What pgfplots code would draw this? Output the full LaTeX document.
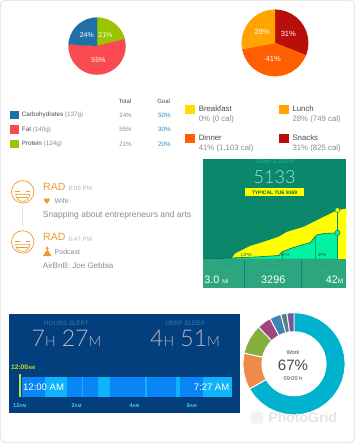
\documentclass[border=0pt]{standalone}
\usepackage{pgfplots}
\pgfplotsset{compat=1.18}
\usepgfplotslibrary{polar}
\usepackage{fontspec}
\setmainfont{Liberation Sans}
\newfontfamily\thinf{Lato Light}
\newfontfamily\dejavu{DejaVu Sans}
\definecolor{gtx}{HTML}{8C8C8C}
\definecolor{dtx}{HTML}{4A4A4A}
\definecolor{ora}{HTML}{EF9A2E}
\definecolor{lnk}{HTML}{2A8CC4}
\definecolor{pb}{HTML}{1F6FA8}
\definecolor{pg}{HTML}{9BC400}
\definecolor{pr}{HTML}{F94B4F}
\definecolor{bf}{HTML}{FFDD00}
\definecolor{lu}{HTML}{FFA400}
\definecolor{di}{HTML}{FF5F00}
\definecolor{sn}{HTML}{B80F0A}
\definecolor{teal}{HTML}{0B876C}
\definecolor{foot}{HTML}{2DA67F}
\definecolor{mint}{HTML}{00F2A2}
\definecolor{ygreen}{HTML}{FFFF00}
\definecolor{navy}{HTML}{033F7C}
\definecolor{bar1}{HTML}{0A85F5}
\definecolor{bar2}{HTML}{0DB4FB}
\definecolor{d1}{HTML}{00B2CE}
\definecolor{d2}{HTML}{EE8A4A}
\definecolor{d3}{HTML}{86B03C}
\definecolor{d4}{HTML}{A0457F}
\definecolor{d5}{HTML}{3F83B8}
\definecolor{d6}{HTML}{5B7D8A}
\definecolor{d7}{HTML}{6F5A9A}
\newcommand\rect[5]{\addplot[fill=#1,draw=none,forget plot] coordinates {(#2,#3)(#4,#3)(#4,#5)(#2,#5)} --cycle;}
\newcommand\T[6]{\node[text=#1,anchor=#3,inner sep=0pt,font=\fontsize{#2}{#2}\selectfont] at (axis cs:#4,#5) {#6};}
\newcommand\Sq[4]{\addplot[only marks,mark=square*,mark size=#4pt,color=#1,forget plot] coordinates {(#2,#3)};}
\newcommand\Face[4]{%
  \draw[ora,line width=0.7pt] (axis cs:23,#1) circle [radius=11.2pt];
  \draw[ora,line width=0.6pt] (axis cs:15.5,#2) -- (axis cs:20,#2);
  \draw[ora,line width=0.6pt] (axis cs:26,#2) -- (axis cs:30.5,#2);
  \draw[ora,line width=0.6pt] (axis cs:30,#3) arc (0:-180:7pt) -- cycle;
  \draw[ora,line width=0.4pt] (axis cs:17.5,#4) -- (axis cs:28.5,#4);}
\pgfplotsset{pix/.style={at={(0pt,0pt)},anchor=south west,width=355pt,height=443pt,scale only axis,
  xmin=0,xmax=355,ymin=0,ymax=443,y dir=reverse,hide axis,clip=false},
  wedge/.style={fill=#1,draw=#1,line width=0.2pt,mark=none,forget plot},
  gapw/.style={fill=#1,draw=white,line width=0.9pt,mark=none,forget plot},
  pol/.style={anchor=center,scale only axis,xmin=0,xmax=360,ymin=0,ymax=1,hide axis,clip=false}}
\begin{document}
\begin{tikzpicture}
\begin{axis}[pix]
% card
\draw[draw=gray!25,fill=white,line width=0.7pt,rounded corners=6pt] (axis cs:0.7,0.7) rectangle (axis cs:354.3,442);
% nutrition table
\T{dtx}{6}{center}{125}{101}{Total}
\T{dtx}{6}{center}{163.7}{101}{Goal}
\Sq{pb}{14.7}{115}{3.7}
\Sq{pr}{14.7}{129.3}{3.7}
\Sq{pg}{14.7}{144}{3.7}
\T{dtx}{6.3}{west}{22}{115.3}{Carbohydrates \textcolor{gtx}{(137g)}}
\T{dtx}{6.3}{west}{22}{129.6}{Fat \textcolor{gtx}{(140g)}}
\T{dtx}{6.3}{west}{22}{144.3}{Protein \textcolor{gtx}{(124g)}}
\T{gtx}{6.2}{east}{132}{115.3}{24\%}
\T{gtx}{6.2}{east}{132}{129.6}{55\%}
\T{gtx}{6.2}{east}{132}{144.3}{21\%}
\T{lnk}{6.2}{east}{170.7}{115.3}{50\%}
\T{lnk}{6.2}{east}{170.7}{129.6}{30\%}
\T{lnk}{6.2}{east}{170.7}{144.3}{20\%}
% meals legend
\Sq{bf}{189.7}{109.3}{4.4}
\Sq{lu}{283}{109.3}{4.4}
\Sq{di}{189.7}{138.3}{4.4}
\Sq{sn}{283}{138.3}{4.4}
\T{dtx}{7.8}{west}{198.5}{109}{Breakfast}
\T{gtx}{7.8}{west}{198.5}{119.3}{0\% (0 cal)}
\T{dtx}{7.8}{west}{292}{109}{Lunch}
\T{gtx}{7.8}{west}{292}{119.3}{28\% (749 cal)}
\T{dtx}{7.8}{west}{198.5}{138}{Dinner}
\T{gtx}{7.8}{west}{198.5}{148.3}{41\% (1,103 cal)}
\T{dtx}{7.8}{west}{292}{138}{Snacks}
\T{gtx}{7.8}{west}{292}{148.3}{31\% (825 cal)}
% mood entries
\draw[gray!25,line width=1.1pt] (axis cs:23,207) -- (axis cs:23,226);
\Face{191.7}{191}{194.2}{197}
\Face{241.7}{241}{244.2}{247}
\T{ora}{10.5}{west}{43.3}{187}{RAD}
\T{gray!55}{6.3}{west}{68.5}{188.7}{8:09 PM}
\node[text=ora,anchor=center,inner sep=0pt,font=\dejavu\fontsize{8}{8}\selectfont] at (axis cs:47.3,201) {♥};
\T{gtx}{7}{west}{54.7}{201.3}{Wife}
\T{gtx}{8.5}{west}{43}{215}{Snapping about entrepreneurs and arts}
\T{ora}{10.5}{west}{43.3}{237}{RAD}
\T{gray!55}{6.3}{west}{68.5}{238.7}{6:47 PM}
\fill[ora] (axis cs:43,256) -- (axis cs:47.5,249) -- (axis cs:52,256) -- cycle;
\fill[ora] (axis cs:47.5,248) circle [radius=1.6pt];
\T{gtx}{7}{west}{54.7}{251.3}{Podcast}
\T{gtx}{8}{west}{43}{265}{AirBnB: Joe Gebbia}
% steps panel
\rect{teal}{203}{159}{346}{288}
\T{foot!75!mint}{5}{center}{274.3}{162}{TODAY'S STEPS}
\node[text=mint!30!white!85!teal,anchor=center,inner sep=0pt,font=\thinf\fontsize{18}{18}\selectfont] at (axis cs:274.3,176.7) {5133};
\rect{ygreen}{244.3}{188.3}{304}{196}
\T{teal!70!black}{5}{center}{274.2}{192.2}{\textbf{TYPICAL TUE 9169}}
\addplot[fill=ygreen,draw=none,forget plot] coordinates {(231,258.7)(235,253.3)(250,245.7)(263.3,241.7)(278.3,236.7)(286.7,231.7)(303.3,226.7)(316.7,220)(337,210)(346,208.5)(346,259)(231,259)} --cycle;
\addplot[fill=mint,draw=teal!80!black,line width=0.6pt,forget plot] coordinates {(203.3,258.7)(231,257.7)(256.7,256.7)(278.3,255.3)(281.7,251.7)(290,248.3)(310,242.3)(316,235)(323.3,233.3)(337,232.7)(337,259)(203.3,259)} --cycle;
\addplot[teal!70!mint,line width=0.5pt,forget plot] coordinates {(281.7,251.7)(281.7,259)};
\addplot[teal!70!mint,line width=0.5pt,forget plot] coordinates {(315,236)(315,259)};
\addplot[teal,line width=0.8pt,forget plot] coordinates {(337,210)(337,259)};
\addplot[only marks,mark=*,mark size=2.4pt,mark options={fill=ygreen,draw=teal,line width=0.5pt},forget plot] coordinates {(337,210)};
\addplot[only marks,mark=*,mark size=2.6pt,mark options={fill=mint,draw=teal,line width=0.6pt},forget plot] coordinates {(337,232.7)};
\T{teal!80!black}{4.2}{center}{246}{255}{12PM}
\T{teal!80!black}{4.2}{center}{285}{255}{6PM}
\T{teal!80!black}{4.2}{center}{321.7}{255}{8PM}
\rect{foot}{203}{259}{346}{288}
\addplot[teal,line width=0.5pt,forget plot] coordinates {(244.3,259)(244.3,288)};
\addplot[teal,line width=0.5pt,forget plot] coordinates {(301,259)(301,288)};
\T{foot!70!mint}{5}{center}{226}{269}{Distance}
\T{foot!70!mint}{5}{center}{273}{269}{Calories}
\T{foot!70!mint}{5}{east}{343}{269}{Active Time}
\T{white}{10.8}{west}{204}{279.5}{3.0 {\fontsize{5.5}{5.5}\selectfont MI}}
\T{white}{10.8}{center}{273}{279.5}{3296}
\T{white}{10.8}{east}{343}{279.5}{42{\fontsize{6.5}{6.5}\selectfont M}}
% sleep panel
\rect{navy}{9}{314}{240}{412.5}
\T{pb!90!white}{6.3}{center}{66.7}{323}{HOURS SLEPT}
\T{pb!90!white}{6.3}{center}{185}{323}{DEEP SLEEP}
\node[text=blue!15!gray!50!white,anchor=center,inner sep=0pt,font=\thinf\fontsize{23}{23}\selectfont] at (axis cs:66.7,338.3) {7{\fontsize{14}{14}\selectfont H} 27{\fontsize{14}{14}\selectfont M}};
\node[text=blue!15!gray!50!white,anchor=center,inner sep=0pt,font=\thinf\fontsize{23}{23}\selectfont] at (axis cs:185,338.3) {4{\fontsize{14}{14}\selectfont H} 51{\fontsize{14}{14}\selectfont M}};
\rect{bar1}{22}{376.5}{232}{396.5}
\rect{bar2}{45.7}{376.5}{67}{396.5}
\rect{bar2}{81.7}{376.5}{83}{396.5}
\rect{bar2}{97.7}{376.5}{110}{396.5}
\rect{bar2}{145}{376.5}{146.7}{396.5}
\rect{bar2}{175.7}{376.5}{180}{396.5}
\rect{bar2}{203.3}{376.5}{232}{396.5}
\rect{yellow!60!green!70!white}{19.5}{374}{21.3}{396.5}
\T{yellow!80!green}{6.6}{center}{23.5}{367}{\textbf{12:00{\fontsize{4.6}{4.6}\selectfont AM}}}
\T{white}{9.5}{west}{23.3}{386.7}{12:00 AM}
\T{white}{9.5}{east}{229.3}{386.7}{7:27 AM}
\T{bar2!75!white}{5.6}{center}{20}{405.3}{\textbf{12{\fontsize{4.4}{4.4}\selectfont AM}}}
\T{bar2!75!white}{5.6}{center}{76.7}{405.3}{\textbf{2{\fontsize{4.4}{4.4}\selectfont AM}}}
\T{bar2!75!white}{5.6}{center}{134.3}{405.3}{\textbf{4{\fontsize{4.4}{4.4}\selectfont AM}}}
\T{bar2!75!white}{5.6}{center}{191.7}{405.3}{\textbf{6{\fontsize{4.4}{4.4}\selectfont AM}}}
\end{axis}
% macro pie
\begin{polaraxis}[pol,at={(97.2pt,396.7pt)},width=57pt,height=57pt]
\addplot[wedge=pg] coordinates {(0,0)(90,1)(80,1)(70,1)(60,1)(50,1)(40,1)(30,1)(20,1)(14.4,1)} --cycle;
\addplot[wedge=pr] coordinates {(0,0)(14.4,1)(0,1)(-10,1)(-20,1)(-30,1)(-40,1)(-50,1)(-60,1)(-70,1)(-80,1)(-90,1)(-100,1)(-110,1)(-120,1)(-130,1)(-140,1)(-150,1)(-160,1)(-170,1)(-180,1)(-183.6,1)} --cycle;
\addplot[wedge=pb] coordinates {(0,0)(176.4,1)(170,1)(160,1)(150,1)(140,1)(130,1)(120,1)(110,1)(100,1)(90,1)} --cycle;
\end{polaraxis}
% meals pie
\begin{polaraxis}[pol,at={(274.7pt,399.8pt)},width=66.4pt,height=66.4pt]
\addplot[wedge=sn] coordinates {(0,0)(90,1)(80,1)(70,1)(60,1)(50,1)(40,1)(30,1)(20,1)(10,1)(0,1)(-10,1)(-20,1)(-21.6,1)} --cycle;
\addplot[wedge=di] coordinates {(0,0)(-21.6,1)(-30,1)(-40,1)(-50,1)(-60,1)(-70,1)(-80,1)(-90,1)(-100,1)(-110,1)(-120,1)(-130,1)(-140,1)(-150,1)(-160,1)(-169.2,1)} --cycle;
\addplot[wedge=lu] coordinates {(0,0)(190.8,1)(180,1)(170,1)(160,1)(150,1)(140,1)(130,1)(120,1)(110,1)(100,1)(90,1)} --cycle;
\end{polaraxis}
% donut
\begin{polaraxis}[pol,at={(293.7pt,79.7pt)},width=102pt,height=102pt]
\addplot[gapw=d1] coordinates {(0,0)(90,1)(80,1)(70,1)(60,1)(50,1)(40,1)(30,1)(20,1)(10,1)(0,1)(-10,1)(-20,1)(-30,1)(-40,1)(-50,1)(-60,1)(-70,1)(-80,1)(-90,1)(-100,1)(-110,1)(-120,1)(-130,1)(-140,1)(-150,1)(-150.5,1)} --cycle;
\addplot[gapw=d2] coordinates {(0,0)(209.5,1)(200,1)(190,1)(180,1)(168,1)} --cycle;
\addplot[gapw=d3] coordinates {(0,0)(168,1)(160,1)(150,1)(140,1)(134,1)} --cycle;
\addplot[gapw=d4] coordinates {(0,0)(134,1)(125,1)(118,1)} --cycle;
\addplot[gapw=d5] coordinates {(0,0)(118,1)(110,1)(105,1)} --cycle;
\addplot[gapw=d6] coordinates {(0,0)(105,1)(98,1)} --cycle;
\addplot[gapw=d7] coordinates {(0,0)(98,1)(90,1)} --cycle;
\addplot[fill=white,draw=none,mark=none,forget plot] coordinates {(0,0.637)(10,0.637)(20,0.637)(30,0.637)(40,0.637)(50,0.637)(60,0.637)(70,0.637)(80,0.637)(90,0.637)(100,0.637)(110,0.637)(120,0.637)(130,0.637)(140,0.637)(150,0.637)(160,0.637)(170,0.637)(180,0.637)(190,0.637)(200,0.637)(210,0.637)(220,0.637)(230,0.637)(240,0.637)(250,0.637)(260,0.637)(270,0.637)(280,0.637)(290,0.637)(300,0.637)(310,0.637)(320,0.637)(330,0.637)(340,0.637)(350,0.637)} --cycle;
\end{polaraxis}
% overlay texts
\begin{axis}[pix]
\T{white}{7}{center}{87}{35}{24\%}
\T{white}{7}{center}{105.5}{35}{21\%}
\T{white}{7}{center}{98.5}{60}{55\%}
\T{white}{7.5}{center}{262}{32.5}{28\%}
\T{white}{7.5}{center}{288}{33.7}{31\%}
\T{white}{7.5}{center}{273}{59.2}{41\%}
\T{dtx}{5.6}{center}{292.7}{352}{Work}
\T{dtx}{15}{center}{292.7}{365}{67\%}
\T{dtx}{5.6}{center}{292.7}{377.7}{09:00 h}
\fill[gray!30,opacity=0.35,rounded corners=2pt] (axis cs:251,411) rectangle (axis cs:263,423);
\node[text=gray!30!white,opacity=0.7,anchor=west,inner sep=0pt,font=\bfseries\fontsize{14}{14}\selectfont] at (axis cs:268,416.7) {PhotoGrid};
\end{axis}
\end{tikzpicture}
\end{document}
